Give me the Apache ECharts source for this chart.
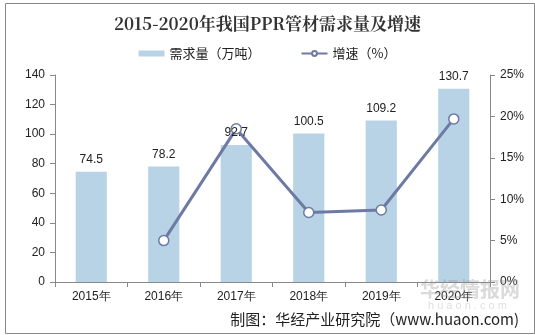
<!DOCTYPE html>
<html><head><meta charset="utf-8">
<script src="https://cdn.jsdelivr.net/npm/echarts@6/dist/echarts.min.js"></script>
<style>html,body{margin:0;padding:0;background:#fff}#c{width:535px;height:335px}</style>
</head><body><div id="c"></div>
<script>
const categories = ['2015年','2016年','2017年','2018年','2019年','2020年'];
const demand = [74.5, 78.2, 92.7, 100.5, 109.2, 130.7];
const growth = [null, 5.0, 18.5, 8.4, 8.7, 19.7];
const leftTicks = [0, 20, 40, 60, 80, 100, 120, 140];
const rightTicks = [0, 5, 10, 15, 20, 25];

const chart = echarts.init(document.getElementById('c'));
const axisFont = {fontFamily:'Liberation Sans, Arial, sans-serif', fontSize:12, color:'#222'};
chart.setOption({
  animation:false,
  title:{text:'2015-2020年我国PPR管材需求量及增速', left:'center', top:10,
    textStyle:{fontFamily:'"Noto Serif CJK SC", "Noto Sans CJK SC", serif', fontWeight:'bold', fontSize:17, color:'#333'}},
  legend:{top:42, left:'center', itemGap:40, itemWidth:26, itemHeight:6,
    textStyle:{fontFamily:'"Noto Sans CJK SC", sans-serif', fontSize:13, color:'#222'},
    data:[{name:'需求量（万吨）', icon:'rect'},{name:'增速（%）'}]},
  grid:{left:55, right:45, top:75, bottom:53},
  xAxis:{type:'category', data:categories,
    axisLine:{lineStyle:{color:'#888'}},
    axisTick:{show:true, alignWithLabel:false, lineStyle:{color:'#888'}},
    axisLabel:Object.assign({margin:9}, axisFont)},
  yAxis:[
    {type:'value', min:0, max:140, interval:20, splitLine:{show:false},
     axisLine:{show:true, lineStyle:{color:'#888'}}, axisTick:{show:true, lineStyle:{color:'#888'}},
     axisLabel:Object.assign({margin:10}, axisFont)},
    {type:'value', min:0, max:25, interval:5, splitLine:{show:false}, position:'right',
     axisLine:{show:true, lineStyle:{color:'#888'}}, axisTick:{show:true, lineStyle:{color:'#888'}},
     axisLabel:Object.assign({margin:10, formatter:'{value}%'}, axisFont)}
  ],
  series:[
    {name:'需求量（万吨）', type:'bar', data:demand, barWidth:'43%', z:2,
     itemStyle:{color:'#b8d3e6'}},
    {name:'labels', type:'bar', data:demand, barWidth:'43%', barGap:'-100%', z:10, silent:true,
     itemStyle:{color:'rgba(0,0,0,0)'},
     label:{show:true, position:'top', distance:6, fontFamily:'Liberation Sans, Arial, sans-serif', fontSize:12, color:'#222',
       formatter:p=>p.value.toFixed(1)}},
    {name:'增速（%）', type:'line', yAxisIndex:1, data:growth, symbol:'circle', symbolSize:10, z:5,
     lineStyle:{color:'#6d7aa3', width:3}, itemStyle:{color:'#fff', borderColor:'#6d7aa3', borderWidth:1.5}}
  ],
  graphic:[
    {type:'rect', left:3, top:1, shape:{width:529, height:330}, style:{fill:'none', stroke:'#888', lineWidth:1}, silent:true},
    {type:'text', left:420, top:279, z:100, style:{text:'华经情报网', font:'bold 20px "Noto Sans CJK SC", sans-serif', fill:'rgba(150,150,150,0.35)'}},
    {type:'text', left:428, top:300, z:100, style:{text:'h u a o n . c o m', font:'11px sans-serif', fill:'rgba(150,150,150,0.3)'}},
    {type:'text', right:16, top:312, z:101, style:{text:'制图：华经产业研究院（www.huaon.com)', font:'15px "Noto Sans CJK SC", sans-serif', fill:'#222'}}
  ]
});
</script></body></html>
